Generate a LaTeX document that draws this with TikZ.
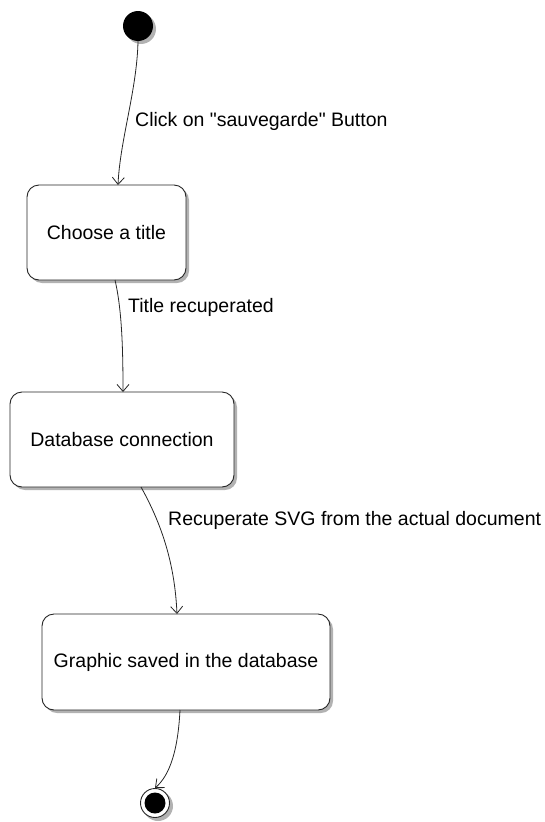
\documentclass[tikz,border=0pt]{standalone}
\usepackage{fontspec}
\setmainfont{Liberation Sans}
\usetikzlibrary{arrows.meta,shadows}
\begin{document}
\begin{tikzpicture}[x=1pt,y=-1pt,
  statebox/.style={draw=black!85, line width=0.9pt, rounded corners=12pt, fill=white,
    drop shadow={shadow xshift=3pt, shadow yshift=-3pt, fill=black!30, opacity=1},
    font=\fontsize{19.5}{22}\selectfont, inner sep=0pt},
  trans/.style={draw=black!85, line width=0.8pt, -{Straight Barb[length=7pt,width=12pt]}},
  lbl/.style={font=\fontsize{19.5}{22}\selectfont, anchor=west, inner sep=0pt}]
\useasboundingbox (0,0) rectangle (545,822);
% start
\fill[black!30] (141,29) circle (15);
\node[circle, fill=black, minimum size=30pt, inner sep=0pt] (start) at (138,26) {};
% states
\node[statebox, minimum width=159pt, minimum height=95pt] (s1) at (106.5,232.5) {Choose a title};
\node[statebox, minimum width=224pt, minimum height=95pt] (s2) at (122,439.5) {Database connection};
\node[statebox, minimum width=288pt, minimum height=96pt] (s3) at (186,662) {Graphic saved in the database};
% end
\fill[black!30] (158,806) circle (15);
\node[circle, draw=black!85, line width=0.9pt, fill=white, minimum size=29pt, inner sep=0pt] (endo) at (155,803) {};
\node[circle, fill=black, minimum size=21pt, inner sep=0pt] (endi) at (155,803) {};
% transitions
\coordinate (a1) at (118,185);
\draw[trans] (start.south) .. controls (137,90) and (120,140) .. (a1);
\node[lbl] (l1) at (135,121) {Click on \textquotedbl sauvegarde\textquotedbl{} Button};
\coordinate (b0) at (115,280);
\coordinate (b1) at (123,392);
\draw[trans] (b0) .. controls (122,310) and (123,350) .. (b1);
\node[lbl] (l2) at (128,307) {Title recuperated};
\coordinate (c0) at (141,487);
\coordinate (c1) at (177,614);
\draw[trans] (c0) .. controls (165,530) and (175,570) .. (c1);
\node[lbl] (l3) at (168,520) {Recuperate SVG from the actual document};
\coordinate (d0) at (180,710);
\draw[trans] (d0) .. controls (178,750) and (170,775) .. (endo.north);
\end{tikzpicture}
\end{document}
